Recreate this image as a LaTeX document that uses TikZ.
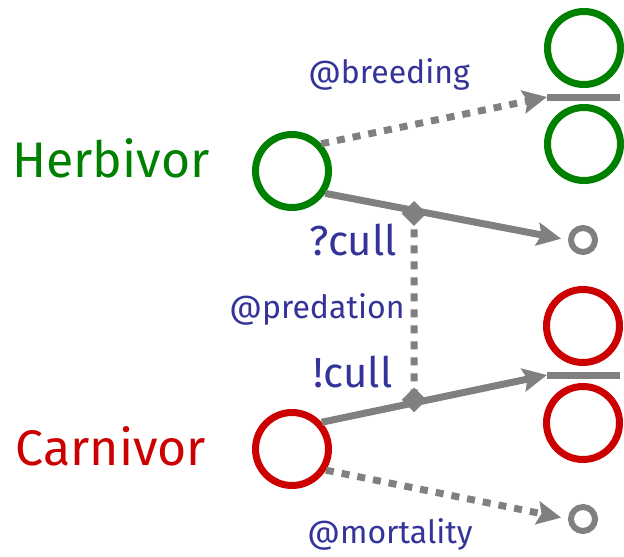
\documentclass[tikz,border=0pt]{standalone}
\usepackage{fontspec}
\setmainfont{Fira Sans}
\usetikzlibrary{arrows.meta,calc,shapes.geometric}
\definecolor{tgreen}{RGB}{0,128,0}
\definecolor{tred}{RGB}{204,0,0}
\definecolor{tblue}{RGB}{51,51,153}
\definecolor{tgray}{RGB}{128,128,128}
\begin{document}
\begin{tikzpicture}[x=1pt,y=-1pt,
 big/.style={circle,draw=#1,line width=7pt,minimum size=73pt,inner sep=0pt},
 sm/.style={circle,draw=tgray,line width=6pt,minimum size=24pt,inner sep=0pt},
 bar/.style={draw=tgray,line width=7pt},
 solidarr/.style={draw=tgray,line width=7pt,-{Stealth[length=24pt,width=23pt,inset=4pt]}},
 dotarr/.style={solidarr,dash pattern=on 8pt off 8pt},
 dmd/.style={diamond,fill=tgray,minimum size=25pt,inner sep=0pt},
 lbl/.style={text=tblue,font=\fontsize{32}{36}\selectfont,inner sep=0pt,anchor=base},
 culllbl/.style={text=tblue,font=\fontsize{42}{46}\selectfont,inner sep=0pt,anchor=base},
 species/.style={text=#1,font=\fontsize{50}{56}\selectfont,inner sep=0pt,anchor=base}
]
\useasboundingbox (0,0) rectangle (624,557);
% circles
\node[big=tgreen] (h) at (292,171) {};
\node[big=tred] (c) at (292,449) {};
\node[big=tgreen] (g1) at (584,48) {};
\node[big=tgreen] (g2) at (584,144) {};
\node[big=tred] (r1) at (583,326) {};
\node[big=tred] (r2) at (583,423) {};
\node[sm] (s1) at (583,240) {};
\node[sm] (s2) at (583,519) {};
% bars
\coordinate (gbL) at (547,97);
\coordinate (gbR) at (620,97);
\coordinate (rbL) at (547,375);
\coordinate (rbR) at (620,375);
\draw[bar] (gbL) -- (gbR);
\draw[bar] (rbL) -- (rbR);
% labels
\node[species=tgreen] (ht) at (111,177) {Herbivor};
\node[species=tred] (ct) at (111,465) {Carnivor};
\node[lbl] (lb) at (389,83) {@breeding};
\node[lbl] (lp) at (317,318) {@predation};
\node[lbl] (lm) at (390,543) {@mortality};
\node[culllbl] (q) at (353,255) {?cull};
\node[culllbl] (e) at (353,387) {!cull};
% arrows
\draw[dotarr] (h.43) -- (gbL);
\draw[solidarr,shorten >=7pt] (h.-34) -- (s1.west);
\draw[solidarr] (c.42) -- (rbL);
\draw[dotarr,shorten >=7pt] (c.-32) -- (s2.west);
% predation link
\node[dmd] (d1) at ($(h.-34)!0.366!(s1.west)+(0,3)$) {};
\node[dmd] (d2) at ($(c.42)!0.41!(rbL)+(0,-3)$) {};
\draw[draw=tgray,line width=7pt,dash pattern=on 8pt off 8pt] (d1.center) -- (d2.center);
\end{tikzpicture}
\end{document}
